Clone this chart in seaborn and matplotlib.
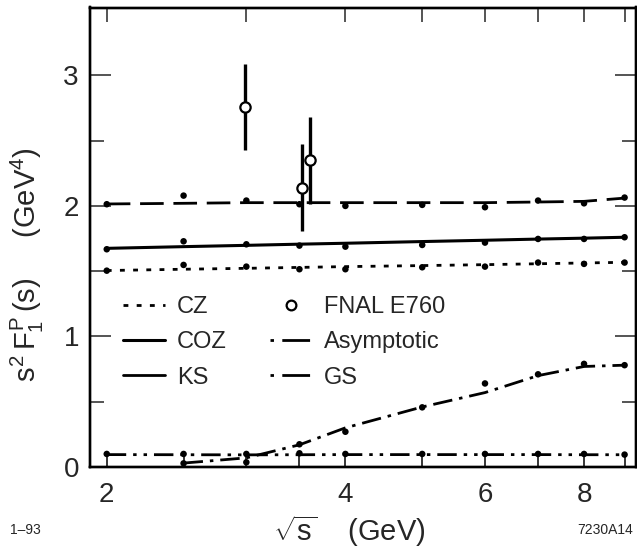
import numpy as np
import pandas as pd
import matplotlib
matplotlib.use("Agg")
import matplotlib.pyplot as plt
import seaborn as sns
from matplotlib.lines import Line2D
from matplotlib.ticker import FixedLocator, NullFormatter, FixedFormatter, NullLocator

# ---- data ----
sqrt_s = [2, 2.5, 3, 3.5, 4, 5, 6, 7, 8, 9]

cz_line = [1.505, 1.515, 1.522, 1.529, 1.535, 1.543, 1.550, 1.557, 1.563, 1.568]
cz_pts = [1.504, 1.548, 1.535, 1.515, 1.515, 1.530, 1.535, 1.566, 1.556, 1.566]

coz_line = [1.675, 1.688, 1.698, 1.707, 1.714, 1.727, 1.737, 1.746, 1.753, 1.760]
coz_pts = [1.668, 1.729, 1.706, 1.696, 1.688, 1.701, 1.719, 1.747, 1.747, 1.760]

ks_line = [2.015, 2.020, 2.025, 2.025, 2.025, 2.025, 2.025, 2.030, 2.035, 2.060]
ks_pts = [2.013, 2.079, 2.041, 2.013, 2.000, 2.008, 1.990, 2.041, 2.020, 2.064]

asym_line = [0.095, 0.094, 0.093, 0.094, 0.095, 0.095, 0.095, 0.095, 0.094, 0.094]
asym_pts = [0.100, 0.100, 0.100, 0.105, 0.100, 0.100, 0.100, 0.100, 0.100, 0.095]

gs_x = [2.5, 3, 3.5, 4, 5, 6, 7, 8, 9]
gs_line = [0.03, 0.07, 0.17, 0.30, 0.46, 0.57, 0.70, 0.77, 0.78]
gs_pts = [0.028, 0.036, 0.174, 0.27, 0.457, 0.64, 0.71, 0.79, 0.78]

e760_x = [2.99, 3.526, 3.613]
e760_y = [2.76, 2.14, 2.35]
e760_err = [0.33, 0.335, 0.333]

x_major = [2, 4, 6, 8]
x_major_labels = ["2", "4", "6", "8"]
x_minor = [2.5, 3, 3.5, 5, 7, 9]
x_top = [2, 3, 4, 5, 6, 7, 8, 9]
y_major = [0, 1, 2, 3]
y_minor = [0.5, 1.5, 2.5]

# ---- style ----
sns.set_theme(style="ticks")
plt.rcParams['font.family'] = ['Liberation Sans', 'DejaVu Sans']
plt.rcParams['mathtext.fontset'] = 'custom'
plt.rcParams['mathtext.rm'] = 'Liberation Sans'
plt.rcParams['mathtext.it'] = 'Liberation Sans'
plt.rcParams['mathtext.sf'] = 'Liberation Sans'
plt.rcParams['lines.scale_dashes'] = False

fig = plt.figure(figsize=(6.37, 5.54), dpi=100)
W, H = 637, 554
left, right, top, bottom = 90, 635.5, 7.5, 467
ax = fig.add_axes([left / W, 1 - bottom / H, (right - left) / W, (bottom - top) / H])

ls_cz = (0, (3.5, 6))
ls_coz = '-'
ls_ks = (0, (17, 7))
ls_asym = (0, (14, 5, 2.5, 5, 2.5, 5))
ls_gs = (0, (14, 5, 2.5, 5))

def curve(x, yl, yp, ls, lw):
    sns.lineplot(x=x, y=yl, ax=ax, color='black', lw=lw, linestyle=ls,
                 sort=False, estimator=None)
    sns.scatterplot(x=x, y=yp, ax=ax, color='black', s=22, edgecolor='none', zorder=3)

curve(sqrt_s, cz_line, cz_pts, ls_cz, 2.0)
curve(sqrt_s, coz_line, coz_pts, ls_coz, 2.2)
curve(sqrt_s, ks_line, ks_pts, ls_ks, 2.0)
curve(sqrt_s, asym_line, asym_pts, ls_asym, 2.0)
curve(gs_x, gs_line, gs_pts, ls_gs, 2.0)

ax.errorbar(e760_x, e760_y, yerr=e760_err, fmt='none', ecolor='black', elinewidth=2.4,
            capsize=0, zorder=4)
sns.scatterplot(x=e760_x, y=e760_y, ax=ax, marker='o', s=55, facecolor='white',
                edgecolor='black', linewidth=1.6, zorder=5)

ax.set_xscale('log')
ax.set_xlim(1.905, 9.29)
ax.set_ylim(0, 3.52)

ax.xaxis.set_major_locator(FixedLocator(x_major))
ax.xaxis.set_major_formatter(FixedFormatter(x_major_labels))
ax.xaxis.set_minor_locator(FixedLocator(x_minor))
ax.xaxis.set_minor_formatter(NullFormatter())
ax.tick_params(axis='x', which='both', direction='in', length=9.5, width=1.1,
               top=False, labelsize=20, pad=10.5, color='black')

ax.yaxis.set_major_locator(FixedLocator(y_major))
ax.yaxis.set_minor_locator(FixedLocator(y_minor))
ax.yaxis.set_minor_formatter(NullFormatter())
ax.tick_params(axis='y', which='major', direction='in', length=15, width=1.1,
               left=True, right=True, labelsize=20, pad=8)
ax.tick_params(axis='y', which='minor', direction='in', length=10, width=1.1,
               left=True, right=True)

ax2 = ax.twiny()
ax2.set_xscale('log')
ax2.set_xlim(ax.get_xlim())
ax2.xaxis.set_major_locator(FixedLocator(x_top))
ax2.xaxis.set_major_formatter(NullFormatter())
ax2.xaxis.set_minor_locator(NullLocator())
ax2.tick_params(axis='x', which='major', direction='in', length=10, width=1.1, top=True)

for a in (ax, ax2):
    for sp in a.spines.values():
        sp.set_linewidth(1.7)
        sp.set_color('black')

ax.set_xlabel(r'$\sqrt{s}$    (GeV)', fontsize=21)
ax.xaxis.set_label_coords(0.475, -0.10)
ax.set_ylabel(r'$s^2\,F_1^P\,(s)$     (GeV$^4$)', fontsize=21)
ax.yaxis.set_label_coords(-0.08, 0.44)

handles = [
    Line2D([], [], color='black', lw=2.0, linestyle=ls_cz),
    Line2D([], [], color='black', lw=2.2, linestyle=ls_coz),
    Line2D([], [], color='black', lw=2.0, linestyle='-'),
    Line2D([], [], color='none', marker='o', markersize=7, markerfacecolor='white',
           markeredgecolor='black', markeredgewidth=1.6),
    Line2D([], [], color='black', lw=2.0, linestyle=(0, (2.5, 6, 20, 5))),
    Line2D([], [], color='black', lw=2.0, linestyle=(0, (2.5, 6, 20, 5))),
]
labels = ['CZ', 'COZ', 'KS', 'FNAL E760', 'Asymptotic', 'GS']
leg = ax.legend(handles, labels, ncol=2, loc='upper left', bbox_to_anchor=(0.06, 0.372),
                frameon=False, fontsize=17, handlelength=1.8, handletextpad=0.5,
                columnspacing=1.82, labelspacing=0.56, borderaxespad=0, borderpad=0)

fig.text(10 / W, 1 - 530 / H, '1–93', fontsize=10, ha='left', va='center')
fig.text(633 / W, 1 - 530 / H, '7230A14', fontsize=10, ha='right', va='center')

fig.savefig('out.png', dpi=100)
